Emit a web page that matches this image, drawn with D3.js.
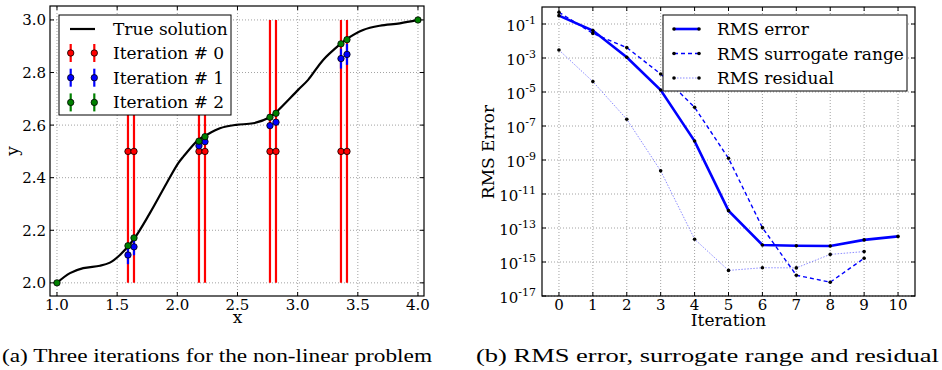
<!DOCTYPE html>
<html>
<head>
<meta charset="utf-8">
<script src="https://cdn.jsdelivr.net/npm/d3@7"></script>
<style>
  body { margin: 0; background: #fff; }
  svg { display: block; }
  text { font-family: "DejaVu Serif", serif; fill: #000; }
  text.caption { font-family: "Liberation Serif", serif; }
</style>
</head>
<body>
<svg id="fig" width="942" height="370"></svg>
<script>
// ---------- panel (a): true solution + three iterations ----------
const curveX = [1.0, 1.108, 1.218, 1.357, 1.44, 1.523, 1.634, 1.772, 1.911, 2.008, 2.05, 2.174, 2.229,
                2.354, 2.49, 2.63, 2.769, 2.819, 3.004, 3.087, 3.212, 3.356, 3.406, 3.544, 3.683, 3.849, 4.0];
const curveY = [2.0, 2.037, 2.056, 2.065, 2.077, 2.106, 2.163, 2.265, 2.379, 2.455, 2.48, 2.544, 2.559,
                2.588, 2.601, 2.607, 2.630, 2.648, 2.734, 2.772, 2.848, 2.909, 2.927, 2.962, 2.978, 2.987, 3.0];

const nodeX = [1.59, 1.64, 2.18, 2.23, 2.77, 2.82, 3.36, 3.41];
const iter0Y = [2.5, 2.5, 2.5, 2.5, 2.5, 2.5, 2.5, 2.5];
const iter0Err = [0.5, 0.5, 0.5, 0.5, 0.5, 0.5, 0.5, 0.5];
const iter1Y = [2.106, 2.137, 2.521, 2.537, 2.598, 2.611, 2.853, 2.869];
const iter1Err = [0.035, 0.032, 0.01, 0.01, 0.01, 0.01, 0.038, 0.04];
const iter2Y = [2.141, 2.171, 2.539, 2.556, 2.630, 2.645, 2.909, 2.925];
const iter2Err = [0.004, 0.004, 0.003, 0.003, 0.003, 0.003, 0.004, 0.004];
const endX = [1.0, 4.0];
const endY = [2.0, 3.0];

const xTicksA = [1.0, 1.5, 2.0, 2.5, 3.0, 3.5, 4.0];
const yTicksA = [2.0, 2.2, 2.4, 2.6, 2.8, 3.0];

// ---------- panel (b): convergence ----------
const iterations = [0, 1, 2, 3, 4, 5, 6, 7, 8, 9, 10];
const rmsError = [3.1e-1, 4.1e-2, 1.1e-3, 1.3e-5, 1.3e-8, 1.05e-12, 1.0e-14, 9.1e-15, 8.7e-15, 2.0e-14, 3.2e-14];
const rmsSurrogate = [4.9e-1, 2.8e-2, 4.1e-3, 1.15e-4, 1.26e-6, 1.26e-9, 1.05e-13, 1.66e-16, 6.5e-17, 1.66e-15];
const rmsResidual = [2.95e-3, 4.1e-5, 2.5e-7, 2.3e-10, 2.2e-14, 3.2e-16, 4.6e-16, 4.5e-16, 2.8e-15, 4.1e-15];
const yTickExpB = [-1, -3, -5, -7, -9, -11, -13, -15, -17];

const svg = d3.select("#fig");
const tickFont = 15;

// dotted grid of one axes box
function frame(g, x, y, xt, yt) {
  const [x0, x1] = x.range(), [y0, y1] = y.range();
  const grid = g.append("g").attr("stroke", "#8a8a8a").attr("stroke-width", 0.8)
    .attr("stroke-dasharray", "1,2");
  grid.selectAll(".gx").data(xt).enter().append("line")
    .attr("x1", d => x(d)).attr("x2", d => x(d)).attr("y1", y0).attr("y2", y1);
  grid.selectAll(".gy").data(yt).enter().append("line")
    .attr("x1", x0).attr("x2", x1).attr("y1", d => y(d)).attr("y2", d => y(d));
}
// box outline with inward ticks on all four sides
function border(g, x, y, xt, yt) {
  const [x0, x1] = x.range(), [y0, y1] = y.range();
  const t = g.append("g").attr("stroke", "#000").attr("stroke-width", 1);
  xt.forEach(d => {
    t.append("line").attr("x1", x(d)).attr("x2", x(d)).attr("y1", y0).attr("y2", y0 - 4);
    t.append("line").attr("x1", x(d)).attr("x2", x(d)).attr("y1", y1).attr("y2", y1 + 4);
  });
  yt.forEach(d => {
    t.append("line").attr("x1", x0).attr("x2", x0 + 4).attr("y1", y(d)).attr("y2", y(d));
    t.append("line").attr("x1", x1).attr("x2", x1 - 4).attr("y1", y(d)).attr("y2", y(d));
  });
  g.append("rect").attr("x", x0).attr("y", y1).attr("width", x1 - x0).attr("height", y0 - y1)
    .attr("fill", "none").attr("stroke", "#000").attr("stroke-width", 1.2);
}

// ================= panel (a) =================
const xA = d3.scaleLinear().domain([0.942, 4.05]).range([50, 424]);
const yA = d3.scaleLinear().domain([1.95, 3.053]).range([296, 6]);
const gA = svg.append("g");
frame(gA, xA, yA, xTicksA, yTicksA);

const line = d3.line().x((d, i) => xA(curveX[i])).y(d => yA(d)).curve(d3.curveCatmullRom.alpha(0.5));
gA.append("path").datum(curveY).attr("d", line)
  .attr("fill", "none").attr("stroke", "#000").attr("stroke-width", 2.2);

const iterSets = [
  { name: "Iteration # 0", ys: iter0Y, err: iter0Err, color: "#ff0000" },
  { name: "Iteration # 1", ys: iter1Y, err: iter1Err, color: "#0000ff" },
  { name: "Iteration # 2", ys: iter2Y, err: iter2Err, color: "#008000" }
];
iterSets.forEach(s => {
  const g = gA.append("g");
  g.selectAll("line").data(s.ys).enter().append("line")
    .attr("x1", (d, i) => xA(nodeX[i])).attr("x2", (d, i) => xA(nodeX[i]))
    .attr("y1", (d, i) => yA(d - s.err[i])).attr("y2", (d, i) => yA(d + s.err[i]))
    .attr("stroke", s.color).attr("stroke-width", 2.2);
  g.selectAll("circle").data(s.ys).enter().append("circle")
    .attr("cx", (d, i) => xA(nodeX[i])).attr("cy", d => yA(d)).attr("r", 3.2)
    .attr("fill", s.color).attr("stroke", "#000").attr("stroke-width", 0.8);
});
gA.selectAll(".end").data(endY).enter().append("circle")
  .attr("cx", (d, i) => xA(endX[i])).attr("cy", d => yA(d)).attr("r", 3.2)
  .attr("fill", "#008000").attr("stroke", "#000").attr("stroke-width", 0.8);

border(gA, xA, yA, xTicksA, yTicksA);

gA.selectAll(".xl").data(xTicksA).enter().append("text")
  .attr("x", d => xA(d)).attr("y", 310).attr("text-anchor", "middle")
  .attr("font-size", tickFont).text(d => d.toFixed(1));
gA.selectAll(".yl").data(yTicksA).enter().append("text")
  .attr("x", 46).attr("y", d => yA(d) + 5.5).attr("text-anchor", "end")
  .attr("font-size", tickFont).text(d => d.toFixed(1));
gA.append("text").attr("x", xA(2.5)).attr("y", 323).attr("text-anchor", "middle")
  .attr("font-size", 17).text("x");
gA.append("text").attr("transform", "translate(18,151) rotate(-90)").attr("text-anchor", "middle")
  .attr("font-size", 17).text("y");

// legend (a)
const legA = gA.append("g");
legA.append("rect").attr("x", 59).attr("y", 15).attr("width", 172).attr("height", 100)
  .attr("fill", "#fff").attr("stroke", "#000").attr("stroke-width", 1);
legA.append("line").attr("x1", 70).attr("x2", 95).attr("y1", 29).attr("y2", 29)
  .attr("stroke", "#000").attr("stroke-width", 2.2);
legA.append("text").attr("x", 113).attr("y", 35).attr("font-size", 17).text("True solution");
iterSets.forEach((s, k) => {
  const ry = 53 + k * 24.7;
  [70.7, 94.3].forEach(lx => {
    legA.append("line").attr("x1", lx).attr("x2", lx).attr("y1", ry - 9).attr("y2", ry + 9)
      .attr("stroke", s.color).attr("stroke-width", 2.2);
    legA.append("circle").attr("cx", lx).attr("cy", ry).attr("r", 3.2)
      .attr("fill", s.color).attr("stroke", "#000").attr("stroke-width", 0.8);
  });
  legA.append("text").attr("x", 113).attr("y", ry + 6).attr("font-size", 17).text(s.name);
});

// ================= panel (b) =================
const xB = d3.scaleLinear().domain([-0.5, 10.5]).range([542, 915]);
const yB = d3.scaleLog().domain([1e-17, 1]).range([296, 7]);
const yTickB = yTickExpB.map(e => Math.pow(10, e));
const gB = svg.append("g");
frame(gB, xB, yB, iterations, yTickB);

const seriesB = [
  { name: "RMS error", vals: rmsError, width: 2.6, dash: null, color: "#0000ff", op: 1 },
  { name: "RMS surrogate range", vals: rmsSurrogate, width: 1.4, dash: "4,3", color: "#0000ff", op: 1 },
  { name: "RMS residual", vals: rmsResidual, width: 1, dash: "1.5,1.5", color: "#6f6fff", op: 0.8 }
];
const lineB = d3.line().x((d, i) => xB(iterations[i])).y(d => yB(d));
seriesB.forEach(s => {
  gB.append("path").datum(s.vals).attr("d", lineB).attr("fill", "none")
    .attr("stroke", s.color).attr("stroke-opacity", s.op).attr("stroke-width", s.width)
    .attr("stroke-dasharray", s.dash);
  gB.selectAll(null).data(s.vals).enter().append("circle")
    .attr("cx", (d, i) => xB(iterations[i])).attr("cy", d => yB(d)).attr("r", 1.8)
    .attr("fill", "#000");
});

border(gB, xB, yB, iterations, yTickB);

gB.selectAll(".xl").data(iterations).enter().append("text")
  .attr("x", d => xB(d)).attr("y", 310).attr("text-anchor", "middle")
  .attr("font-size", tickFont).text(d => d);
yTickExpB.forEach(e => {
  const t = gB.append("text").attr("x", 536).attr("y", yB(Math.pow(10, e)) + 7)
    .attr("text-anchor", "end").attr("font-size", tickFont);
  t.append("tspan").text("10");
  t.append("tspan").attr("dy", -7).attr("font-size", 11).text(String(e));
});
gB.append("text").attr("x", xB(5)).attr("y", 326).attr("text-anchor", "middle")
  .attr("font-size", 17).text("Iteration");
gB.append("text").attr("transform", "translate(494,152) rotate(-90)").attr("text-anchor", "middle")
  .attr("font-size", 17).text("RMS Error");

// legend (b)
const legB = gB.append("g");
legB.append("rect").attr("x", 663).attr("y", 15).attr("width", 244).attr("height", 76)
  .attr("fill", "#fff").attr("stroke", "#000").attr("stroke-width", 1);
seriesB.forEach((s, k) => {
  const ry = 29 + k * 24.5;
  legB.append("line").attr("x1", 674).attr("x2", 699).attr("y1", ry).attr("y2", ry)
    .attr("stroke", s.color).attr("stroke-opacity", s.op).attr("stroke-width", s.width)
    .attr("stroke-dasharray", s.dash);
  [674, 699].forEach(lx => legB.append("circle").attr("cx", lx).attr("cy", ry).attr("r", 1.8).attr("fill", "#000"));
  legB.append("text").attr("x", 717).attr("y", ry + 6).attr("font-size", 17).text(s.name);
});

// ---------- captions ----------
svg.append("text").attr("class", "caption").attr("x", 2).attr("y", 362)
  .attr("font-size", 19).attr("textLength", 430).attr("lengthAdjust", "spacingAndGlyphs")
  .text("(a) Three iterations for the non-linear problem");
svg.append("text").attr("class", "caption").attr("x", 476).attr("y", 362)
  .attr("font-size", 19).attr("textLength", 463).attr("lengthAdjust", "spacingAndGlyphs")
  .text("(b) RMS error, surrogate range and residual");
</script>
</body>
</html>
